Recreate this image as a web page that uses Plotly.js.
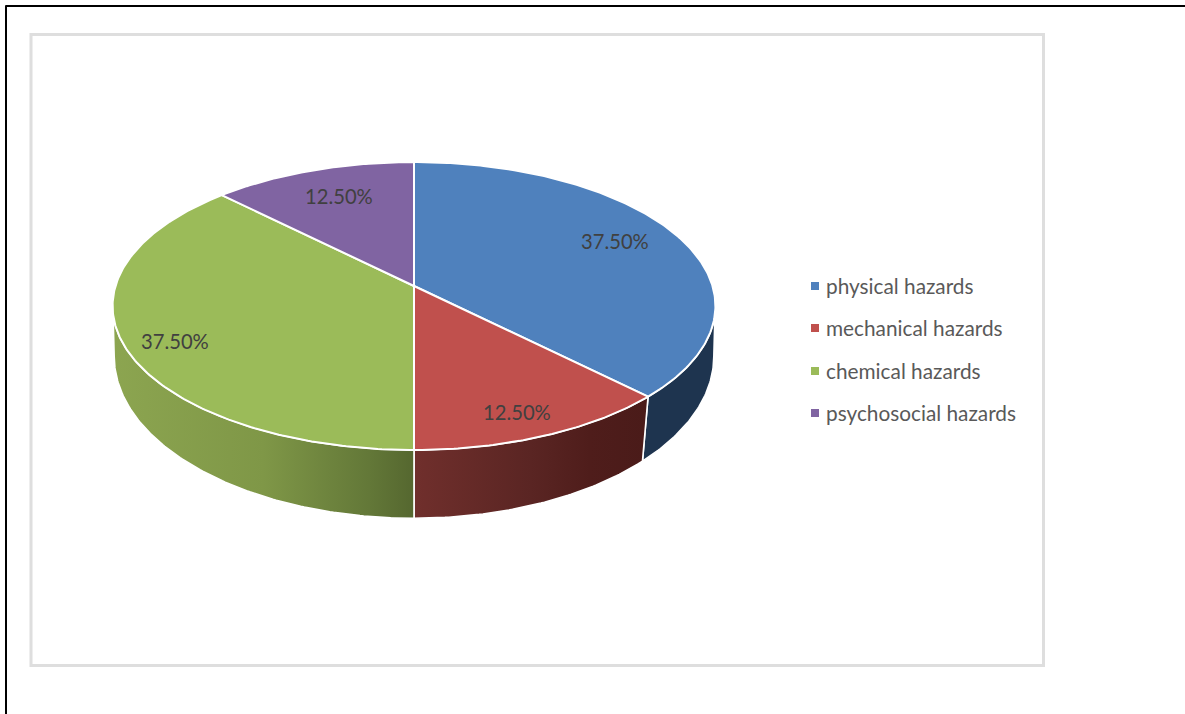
<!DOCTYPE html>
<html>
<head>
<meta charset="utf-8">
<script src="https://cdn.plot.ly/plotly-3.0.1.min.js"></script>
<style>html,body{margin:0;padding:0;background:#fff;overflow:hidden}#chart{width:1185px;height:714px}</style>
</head>
<body>
<div id="chart"></div>
<script>
const categories = ["physical hazards", "mechanical hazards", "chemical hazards", "psychosocial hazards"];
const percentages = [37.5, 12.5, 37.5, 12.5];
const valueLabels = ["37.50%", "12.50%", "37.50%", "12.50%"];
const topColors = ["#4f81bd", "#c0504d", "#9bbb59", "#8064a2"];

// Rim geometry: a circle seen in perspective (pixel-valued axes below).
const topRim = {cx: 414, cy: 286, a: 298.5, b: 141.2, k: 0.1389};
const bottomRim = {cx: 414, cy: 338.5, a: 298, b: 160, k: 0.11};

function rimPoint(rim, deg) {
  const t = deg * Math.PI / 180, u = Math.sin(t), v = Math.cos(t), d = 1 + rim.k * v;
  return [rim.cx + rim.a * u / d, rim.cy - rim.b * v / d];
}
function arc(rim, from, to) {
  const n = Math.max(2, Math.ceil(Math.abs(to - from) * 1.5)), pts = [];
  for (let i = 0; i <= n; i++) pts.push(rimPoint(rim, from + (to - from) * i / n));
  return pts;
}
function poly(pts, style) {
  return Object.assign({
    x: pts.map(p => p[0]), y: pts.map(p => p[1]),
    type: "scatter", mode: "lines", fill: "toself", showlegend: false, hoverinfo: "skip"
  }, style);
}

const total = percentages.reduce((a, b) => a + b, 0);
let running = 0;
const slices = percentages.map(p => {
  const s = {start: running / total * 360, end: (running + p) / total * 360};
  running += p;
  return s;
});

const sideEdge = {color: "#ffffff", width: 1.6};
function side(from, to, style) {
  const pts = arc(topRim, from, to).concat(arc(bottomRim, to, from));
  pts.push(pts[0]);
  return poly(pts, Object.assign({line: sideEdge}, style));
}
const rightLimit = 96.3, leftLimit = 263.7;

const traces = [
  side(rightLimit, slices[0].end, {fillcolor: "#1e344f"}),
  side(slices[1].start, slices[1].end, {fillgradient: {type: "horizontal",
    colorscale: [[0, "#702f2c"], [0.5, "#5a2523"], [0.75, "#4f1d1b"], [1, "#4a1b19"]]}}),
  side(slices[2].start, leftLimit, {fillgradient: {type: "horizontal",
    colorscale: [[0, "#8ca550"], [0.5, "#7f9747"], [0.85, "#637838"], [1, "#55672f"]]}})
];

slices.forEach((s, i) => {
  const pts = [[topRim.cx, topRim.cy]].concat(arc(topRim, s.start, s.end));
  pts.push(pts[0]);
  traces.push(poly(pts, {fillcolor: topColors[i], line: {color: "#ffffff", width: 2}}));
});

const legendX = 815, legendTextX = 827, legendRows = [286, 328, 371, 413];
traces.push({
  x: categories.map(() => legendX), y: legendRows,
  type: "scatter", mode: "markers", showlegend: false, hoverinfo: "skip",
  marker: {symbol: "square", size: 8, color: topColors}
});

const labelAnchors = [[614.5, 241], [516.5, 412], [174.5, 341], [338.5, 196]];
const annotations = valueLabels.map((t, i) => ({
  x: labelAnchors[i][0], y: labelAnchors[i][1], text: t, showarrow: false,
  xanchor: "center", yanchor: "middle", font: {family: "Lato", size: 20.2, color: "#404040"}
})).concat(categories.map((c, i) => ({
  x: legendTextX, y: legendRows[i] - 1, text: c, showarrow: false,
  xanchor: "left", yanchor: "middle", xshift: -3, font: {family: "Lato", size: 20.8, color: "#595959"}
})));

const layout = {
  width: 1185, height: 714,
  margin: {l: 0, r: 0, t: 0, b: 0},
  paper_bgcolor: "#ffffff", plot_bgcolor: "#ffffff",
  showlegend: false,
  xaxis: {range: [0, 1185], visible: false, fixedrange: true},
  yaxis: {range: [714, 0], visible: false, fixedrange: true},
  shapes: [
    {type: "rect", x0: 31, y0: 34.5, x1: 1043.5, y1: 665.5, line: {color: "#dedede", width: 3}, layer: "below"},
    {type: "line", x0: 5.5, y0: 6, x1: 1185, y1: 6, line: {color: "#000000", width: 2}, layer: "below"},
    {type: "line", x0: 6, y0: 5.5, x1: 6, y1: 714, line: {color: "#000000", width: 2}, layer: "below"}
  ],
  annotations: annotations
};
Plotly.newPlot("chart", traces, layout, {displayModeBar: false, staticPlot: true});
</script>
</body>
</html>
